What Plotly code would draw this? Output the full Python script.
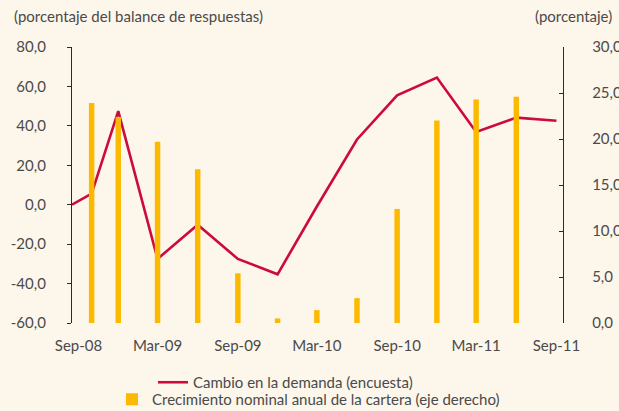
import plotly.graph_objects as go

# ---- data ----
line_dates = ["2008-09-01", "2008-10-16", "2008-12-16", "2009-03-16", "2009-06-16",
              "2009-09-16", "2009-12-16", "2010-03-16", "2010-06-16", "2010-09-16",
              "2010-12-16", "2011-03-16", "2011-06-16", "2011-09-16"]
demanda = [0.0, 5.6, 47.5, -27.5, -10.2, -27.5, -35.3, -0.9, 33.1, 55.5, 64.5, 36.9, 44.2, 42.6]

bar_dates = ["2008-10-16", "2008-12-16", "2009-03-16", "2009-06-16", "2009-09-16",
             "2009-12-16", "2010-03-16", "2010-06-16", "2010-09-16", "2010-12-16",
             "2011-03-16", "2011-06-16"]
cartera = [23.9, 22.4, 19.7, 16.7, 5.4, 0.5, 1.4, 2.7, 12.4, 22.0, 24.3, 24.6]

tick_labels = ["Sep-08", "Mar-09", "Sep-09", "Mar-10", "Sep-10", "Mar-11", "Sep-11"]
label_dates = ["2008-09-16", "2009-03-16", "2009-09-16", "2010-03-16", "2010-09-16",
               "2011-03-16", "2011-09-16"]
tick_dates = ["2008-09-01", "2009-03-01", "2009-09-01", "2010-03-01", "2010-09-01",
              "2011-03-01", "2011-09-01"]

left_ticks = [-60, -40, -20, 0, 20, 40, 60, 80]
right_ticks = [0, 5, 10, 15, 20, 25, 30]

name_line = "Cambio en la demanda (encuesta)"
name_bar = "Crecimiento nominal anual de la cartera (eje derecho)"


def fmt(v):
    return f"{v:.1f}".replace(".", ",")


BG = "#FDF6EA"
TXT = "#4a4a4a"
AX = "#2b2b2b"
FONT = "Lato"
FS = 15

fig = go.Figure()
fig.add_trace(go.Bar(x=bar_dates, y=cartera, name=name_bar, yaxis="y2",
                     marker=dict(color="#FBBA00", line=dict(width=0)),
                     width=12.5 * 86400000, legend="legend2"))
fig.add_trace(go.Scatter(x=line_dates, y=demanda, name=name_line, mode="lines",
                         line=dict(color="#CC0A3C", width=2.6), legend="legend"))

xr = ["2008-09-01", "2011-10-01"]
fig.update_layout(
    width=619, height=411,
    margin=dict(l=72, r=56, t=47, b=88, autoexpand=False),
    paper_bgcolor=BG, plot_bgcolor=BG,
    font=dict(family=FONT, size=FS, color=TXT),
    barmode="overlay",
    xaxis=dict(type="date", range=xr, tickvals=label_dates, ticktext=tick_labels,
               ticks="", showline=False, showgrid=False, zeroline=False,
               ticklabelstandoff=12, tickfont=dict(size=FS, color=TXT)),
    xaxis2=dict(type="date", range=xr, overlaying="x", anchor="free",
                position=60 / 140, side="bottom", tickvals=tick_dates,
                showticklabels=False, ticks="inside", ticklen=5, tickcolor=AX,
                tickwidth=1, showline=True, linecolor=AX, linewidth=1,
                showgrid=False, zeroline=False),
    yaxis=dict(range=[-60, 80], tickvals=left_ticks,
               ticktext=[fmt(v) for v in left_ticks], showgrid=False,
               zeroline=False, showline=True, linecolor=AX, linewidth=1.3,
               ticks="outside", ticklen=4, tickcolor=AX, ticklabelstandoff=18,
               tickfont=dict(size=FS, color=TXT)),
    yaxis2=dict(range=[0, 30], tickvals=right_ticks,
                ticktext=[fmt(v) for v in right_ticks], overlaying="y",
                side="right", showgrid=False, zeroline=False, showline=True,
                linecolor=AX, linewidth=1.3, ticks="inside", ticklen=4,
                tickcolor=AX, ticklabelstandoff=25,
                tickfont=dict(size=FS, color=TXT)),
    legend=dict(xref="container", yref="container", x=153 / 619, y=1 - 366 / 411,
                xanchor="left", yanchor="top", bgcolor="rgba(0,0,0,0)",
                font=dict(size=FS, color=TXT), itemwidth=30),
    legend2=dict(xref="container", yref="container", x=112 / 619, y=1 - 383 / 411,
                 xanchor="left", yanchor="top", bgcolor="rgba(0,0,0,0)",
                 font=dict(size=FS, color=TXT)),
    showlegend=True,
    annotations=[
        dict(text="(porcentaje del balance de respuestas)", xref="paper", yref="paper",
             x=-60 / 491, y=1 + 31 / 276, xanchor="left", yanchor="middle",
             showarrow=False, font=dict(size=FS, color=TXT)),
        dict(text="(porcentaje)", xref="paper", yref="paper",
             x=1 + 51 / 491, y=1 + 31 / 276, xanchor="right", yanchor="middle",
             showarrow=False, font=dict(size=FS, color=TXT)),
    ],
)

fig.write_html("out.html", config={"displayModeBar": False},
               post_script="document.body.style.margin='0';document.body.style.background='%s';" % BG)
